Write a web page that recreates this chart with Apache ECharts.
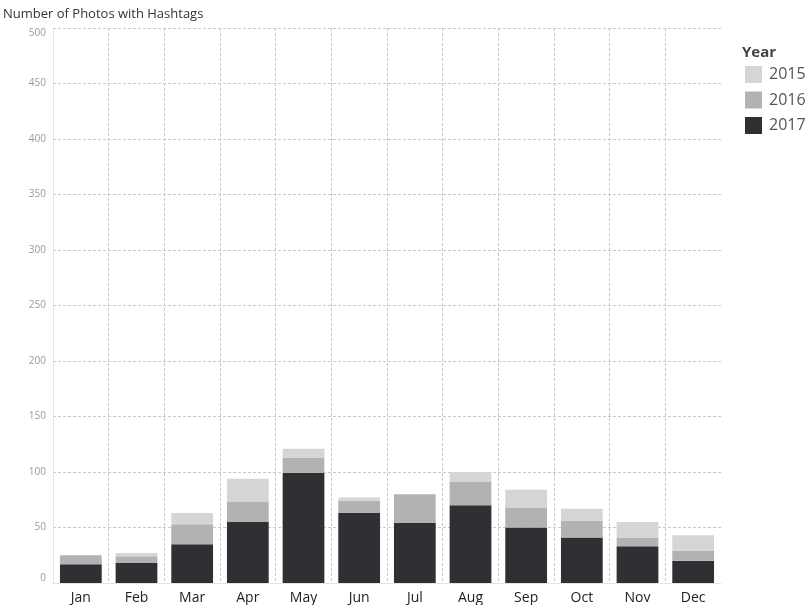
<!DOCTYPE html>
<html>
<head>
<meta charset="utf-8">
<script src="https://cdn.jsdelivr.net/npm/echarts@6/dist/echarts.min.js"></script>
<style>
  html, body { margin: 0; padding: 0; background: #fff; }
  #chart { width: 808px; height: 605px; }
</style>
</head>
<body>
<div id="chart"></div>
<script>
const months = ['Jan', 'Feb', 'Mar', 'Apr', 'May', 'Jun', 'Jul', 'Aug', 'Sep', 'Oct', 'Nov', 'Dec'];
const years = ['2015', '2016', '2017'];

// stacked from the bottom: 2017, then 2016, then 2015 on top
const photos2017 = [17, 18, 35, 55, 99, 63, 54, 70, 50, 41, 33, 20];
const photos2016 = [8, 6, 18, 18, 14, 11, 26, 21, 18, 15, 8, 9];
const photos2015 = [0, 3, 10, 21, 8, 3, 0, 9, 16, 11, 14, 14];

const yearColors = { '2015': '#d5d5d5', '2016': '#b1b3b3', '2017': '#2f3034' };

const chart = echarts.init(document.getElementById('chart'), null, { renderer: 'canvas' });

function barSeries(name, values) {
  return {
    name: name,
    type: 'bar',
    stack: 'total',
    barCategoryGap: '25%',
    itemStyle: { color: yearColors[name] },
    data: values
  };
}

const option = {
  animation: false,
  textStyle: { fontFamily: 'Open Sans' },
  title: [
    {
      text: 'Number of Photos with Hashtags',
      left: 3,
      top: 8,
      padding: 0,
      textStyle: { fontSize: 13, fontWeight: 'normal', color: '#333', fontFamily: 'Open Sans' }
    },
    {
      text: 'Year',
      left: 742,
      top: 45,
      padding: 0,
      textStyle: { fontSize: 15, fontWeight: 'bold', color: '#444', fontFamily: 'Open Sans' }
    }
  ],
  legend: {
    orient: 'vertical',
    left: 745,
    top: 66,
    padding: 0,
    itemWidth: 17,
    itemHeight: 17,
    itemGap: 8.5,
    icon: 'rect',
    data: years,
    textStyle: { fontSize: 16, color: '#555', fontFamily: 'Open Sans', padding: [0, 0, 0, 2] }
  },
  grid: { left: 53, right: 87, top: 28, bottom: 22, containLabel: false },
  xAxis: {
    type: 'category',
    data: months,
    axisLine: { show: true, lineStyle: { color: '#e4e4e4' } },
    axisTick: { show: false },
    axisLabel: { fontSize: 14, color: '#222', margin: 8 },
    splitLine: {
      show: true,
      showMaxLine: false,
      lineStyle: { color: '#c8c8c8', type: [3, 2], width: 1 }
    }
  },
  yAxis: {
    type: 'value',
    min: 0,
    max: 500,
    interval: 50,
    axisLine: { show: true, lineStyle: { color: '#e4e4e4' } },
    axisTick: { show: false },
    axisLabel: {
      fontSize: 10,
      color: '#999',
      margin: 7,
      verticalAlignMinLabel: 'bottom',
      verticalAlignMaxLabel: 'top'
    },
    splitLine: { show: true, lineStyle: { color: '#c8c8c8', type: [3, 2], width: 1 } }
  },
  series: [
    barSeries('2017', photos2017),
    barSeries('2016', photos2016),
    barSeries('2015', photos2015)
  ]
};

chart.setOption(option);
</script>
</body>
</html>
